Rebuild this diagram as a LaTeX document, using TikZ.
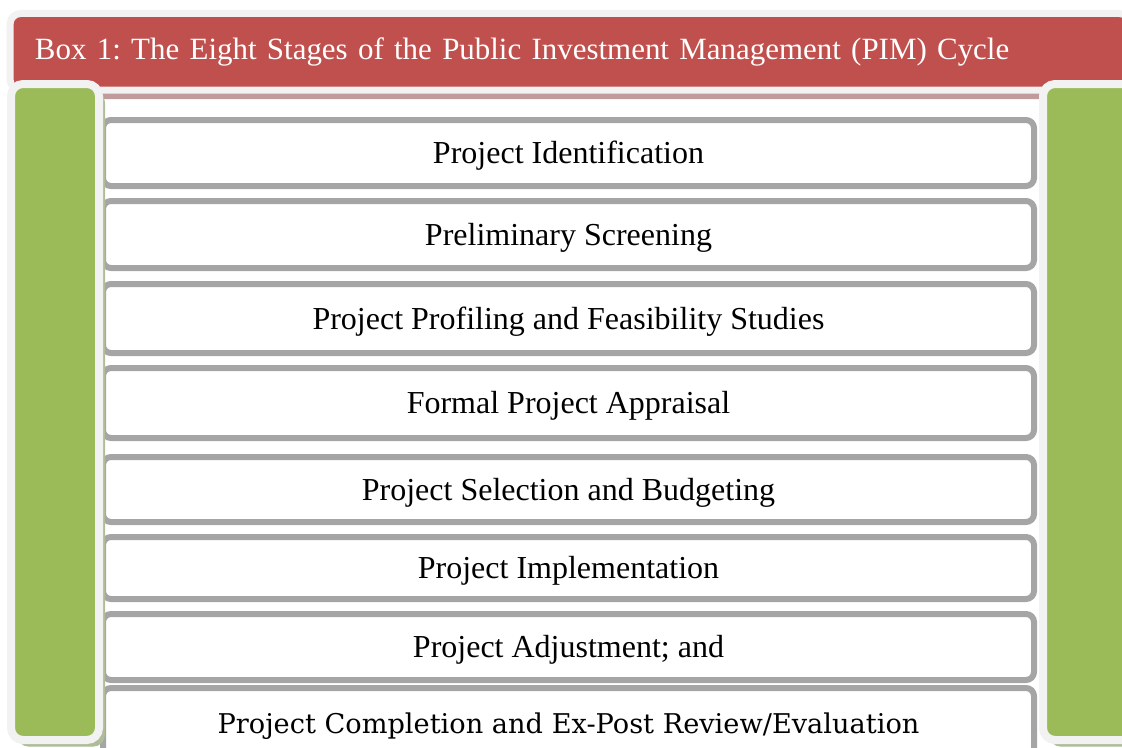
\documentclass[tikz,border=0pt]{standalone}
\usepackage{fontspec}
\setmainfont{Liberation Serif}
\newfontfamily\cambriafont{DejaVu Serif}
\usetikzlibrary{positioning,shadows}
\definecolor{PIMRed}{HTML}{C0504D}
\definecolor{PIMGreen}{HTML}{9BBB59}
\definecolor{PIMGray}{HTML}{A5A5A5}
\definecolor{PIMFrame}{HTML}{F2F2F2}
\definecolor{PIMShade}{HTML}{BF9C9B}
\definecolor{PIMShadeG}{HTML}{AEBD98}
\frenchspacing
\tikzset{header/.style={rectangle,rounded corners=8pt,draw=PIMFrame,line width=5.25pt,fill=PIMRed,text=white,align=left,text width=802.5pt,inner xsep=18.75pt,minimum height=57.4pt,font=\fontsize{23.2}{27}\selectfont,drop shadow={shadow xshift=0pt,shadow yshift=-6.75pt,fill=PIMShade,opacity=1}}, stage/.style={rectangle,rounded corners=6pt,draw=PIMGray,line width=4.5pt,fill=white,minimum width=698.25pt,inner sep=0pt,text height=18pt,text depth=2pt,font=\fontsize{24}{28}\selectfont}, sidebar/.style={rectangle,rounded corners=9pt,draw=PIMFrame,line width=6pt,fill=PIMGreen,minimum height=492pt,drop shadow={shadow xshift=4.5pt,shadow yshift=-5pt,fill=PIMShadeG,opacity=1}}}

\begin{document}
\begin{tikzpicture}[x=0.75pt,y=-0.75pt]
\useasboundingbox (0,0) rectangle (1122,747);
\node[header] (title) at (570,51.75) {Box 1: The Eight Stages of the Public Investment Management (PIM) Cycle};
\node[stage,minimum height=49.5pt] (s1) at (568.5,153) {Project Identification};
\node[stage,minimum height=50.25pt] (s2) at (568.5,234.5) {Preliminary Screening};
\node[stage,minimum height=51.75pt] (s3) at (568.5,318.5) {Project Profiling and Feasibility Studies};
\node[stage,minimum height=52.5pt] (s4) at (568.5,403) {Formal Project Appraisal};
\node[stage,minimum height=48.75pt] (s5) at (568.5,489.5) {Project Selection and Budgeting};
\node[stage,minimum height=46.5pt] (s6) at (568.5,568) {Project Implementation};
\node[stage,minimum height=49.5pt] (s7) at (568.5,647) {Project Adjustment; and};
\node[stage,minimum height=51.75pt,font=\cambriafont\fontsize{20.4}{24}\selectfont] (s8) at (568.5,722.5) {Project Completion and Ex-Post Review/Evaluation};
\node[sidebar,minimum width=66pt] (lbar) at (55,412) {};
\node[sidebar,minimum width=80.25pt] (rbar) at (1096.5,412) {};
\end{tikzpicture}
\end{document}
